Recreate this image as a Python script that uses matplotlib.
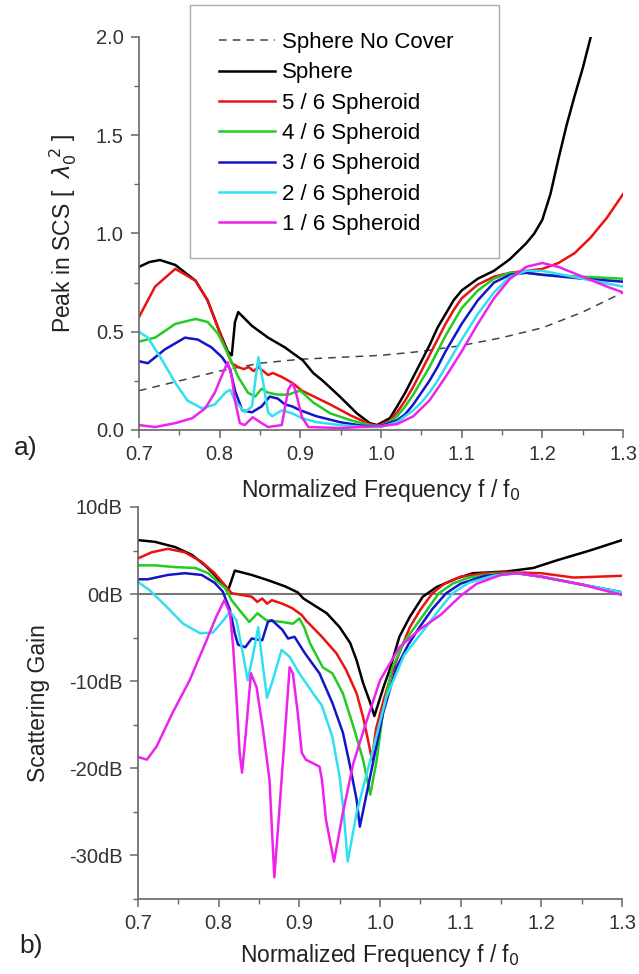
import matplotlib
matplotlib.use("Agg")
import matplotlib.pyplot as plt
from matplotlib.ticker import MultipleLocator
from matplotlib.patches import Rectangle

plt.rcParams['font.family'] = ['Liberation Sans', 'DejaVu Sans']
plt.rcParams['mathtext.fontset'] = 'dejavusans'

# ---- panel a) peak SCS [lambda0^2] ----
f_nc = [0.70, 0.75, 0.80, 0.85, 0.90, 0.95, 1.00, 1.05, 1.10, 1.15, 1.20, 1.25, 1.30]
scs_nc = [0.20, 0.25, 0.30, 0.34, 0.36, 0.37, 0.38, 0.40, 0.43, 0.47, 0.52, 0.60, 0.70]

f_sph_a = [0.70, 0.713, 0.726, 0.745, 0.77, 0.785, 0.798, 0.81, 0.815, 0.819, 0.823, 0.84, 0.86, 0.881,
           0.891, 0.903, 0.916, 0.928, 0.949, 0.97, 0.986, 0.995, 1.011, 1.02, 1.03, 1.04, 1.05, 1.06,
           1.07, 1.08, 1.09, 1.10, 1.12, 1.14, 1.16, 1.18, 1.19, 1.20, 1.21, 1.22, 1.23, 1.24, 1.25, 1.26]
scs_sph = [0.83, 0.855, 0.865, 0.84, 0.76, 0.66, 0.52, 0.40, 0.38, 0.55, 0.60, 0.53, 0.47, 0.42,
           0.39, 0.355, 0.29, 0.25, 0.17, 0.085, 0.035, 0.025, 0.06, 0.12, 0.19, 0.27, 0.35, 0.43,
           0.52, 0.59, 0.66, 0.71, 0.77, 0.81, 0.87, 0.95, 1.00, 1.07, 1.20, 1.38, 1.55, 1.70, 1.84, 2.0]

f_s5_a = [0.70, 0.72, 0.745, 0.77, 0.785, 0.798, 0.807, 0.815, 0.823, 0.83, 0.836, 0.842, 0.848, 0.86,
          0.866, 0.877, 0.89, 0.902, 0.912, 0.937, 0.962, 0.986, 0.995, 1.01, 1.02, 1.03, 1.04, 1.05,
          1.06, 1.07, 1.08, 1.09, 1.10, 1.12, 1.14, 1.16, 1.18, 1.20, 1.22, 1.24, 1.26, 1.28, 1.30]
scs_s5 = [0.575, 0.73, 0.82, 0.76, 0.66, 0.52, 0.42, 0.34, 0.32, 0.31, 0.32, 0.30, 0.32, 0.28,
          0.29, 0.27, 0.24, 0.20, 0.18, 0.13, 0.075, 0.03, 0.02, 0.045, 0.09, 0.15, 0.22, 0.30,
          0.38, 0.46, 0.54, 0.61, 0.67, 0.74, 0.78, 0.80, 0.81, 0.82, 0.85, 0.90, 0.98, 1.08, 1.20]

f_s4_a = [0.70, 0.72, 0.745, 0.77, 0.785, 0.798, 0.81, 0.823, 0.835, 0.844, 0.852, 0.86, 0.872, 0.885,
          0.892, 0.90, 0.916, 0.937, 0.962, 0.986, 1.0, 1.01, 1.02, 1.03, 1.04, 1.05, 1.06, 1.07,
          1.08, 1.09, 1.10, 1.12, 1.14, 1.16, 1.18, 1.20, 1.25, 1.30]
scs_s4 = [0.45, 0.47, 0.54, 0.565, 0.55, 0.49, 0.39, 0.27, 0.19, 0.17, 0.21, 0.19, 0.18, 0.18,
          0.19, 0.20, 0.14, 0.085, 0.05, 0.025, 0.02, 0.04, 0.07, 0.12, 0.18, 0.25, 0.32, 0.40,
          0.48, 0.55, 0.62, 0.71, 0.77, 0.80, 0.80, 0.79, 0.78, 0.77]

f_s3_a = [0.70, 0.711, 0.732, 0.757, 0.773, 0.79, 0.803, 0.813, 0.819, 0.828, 0.84, 0.852, 0.862, 0.872,
          0.881, 0.89, 0.90, 0.92, 0.949, 0.98, 1.0, 1.02, 1.03, 1.04, 1.05, 1.06, 1.07, 1.08,
          1.09, 1.10, 1.12, 1.14, 1.16, 1.18, 1.20, 1.25, 1.30]
scs_s3 = [0.35, 0.34, 0.41, 0.47, 0.46, 0.42, 0.37, 0.31, 0.20, 0.10, 0.09, 0.12, 0.17, 0.16,
          0.13, 0.12, 0.10, 0.07, 0.04, 0.02, 0.02, 0.05, 0.08, 0.13, 0.19, 0.25, 0.32, 0.40,
          0.47, 0.54, 0.66, 0.75, 0.79, 0.80, 0.79, 0.77, 0.755]

f_s2_a = [0.70, 0.711, 0.728, 0.745, 0.76, 0.778, 0.794, 0.807, 0.813, 0.819, 0.831, 0.84, 0.848, 0.854,
          0.86, 0.865, 0.877, 0.89, 0.902, 0.92, 0.949, 0.98, 1.0, 1.02, 1.04, 1.05, 1.06, 1.07,
          1.08, 1.09, 1.10, 1.12, 1.14, 1.16, 1.18, 1.20, 1.25, 1.30]
scs_s2 = [0.50, 0.47, 0.36, 0.24, 0.15, 0.11, 0.13, 0.19, 0.205, 0.15, 0.09, 0.12, 0.37, 0.24,
          0.09, 0.07, 0.10, 0.085, 0.06, 0.04, 0.025, 0.015, 0.015, 0.04, 0.10, 0.14, 0.19, 0.25,
          0.32, 0.39, 0.46, 0.59, 0.70, 0.78, 0.81, 0.81, 0.77, 0.73]

f_s1_a = [0.70, 0.72, 0.745, 0.766, 0.782, 0.794, 0.804, 0.81, 0.815, 0.819, 0.825, 0.831, 0.841, 0.852,
          0.86, 0.877, 0.885, 0.89, 0.894, 0.902, 0.91, 0.95, 1.0, 1.02, 1.04, 1.06, 1.08, 1.10,
          1.12, 1.14, 1.16, 1.18, 1.20, 1.22, 1.25, 1.28, 1.30]
scs_s1 = [0.025, 0.015, 0.035, 0.06, 0.11, 0.19, 0.29, 0.345, 0.27, 0.15, 0.035, 0.025, 0.065, 0.035,
          0.015, 0.025, 0.205, 0.24, 0.20, 0.065, 0.015, 0.01, 0.02, 0.03, 0.07, 0.15, 0.27, 0.40,
          0.54, 0.67, 0.77, 0.83, 0.85, 0.83, 0.78, 0.73, 0.70]

# ---- panel b) scattering gain [dB] ----
f_sph_b = [0.70, 0.721, 0.746, 0.767, 0.783, 0.795, 0.804, 0.812, 0.816, 0.82, 0.841, 0.861, 0.882, 0.898,
           0.905, 0.917, 0.934, 0.95, 0.963, 0.971, 0.979, 0.988, 0.993, 1.005, 1.012, 1.024, 1.037, 1.053,
           1.07, 1.095, 1.115, 1.157, 1.19, 1.22, 1.26, 1.30]
gain_sph = [6.2, 6.0, 5.4, 4.5, 3.3, 2.2, 1.2, 0.5, 1.6, 2.7, 2.2, 1.6, 0.9, 0.2,
            -0.5, -1.2, -2.2, -3.8, -5.6, -7.6, -10.2, -12.5, -14.0, -10.5, -8.7, -4.9, -2.6, -0.3,
            0.8, 1.8, 2.4, 2.6, 3.0, 3.9, 5.0, 6.2]

f_s5_b = [0.70, 0.717, 0.737, 0.758, 0.779, 0.795, 0.808, 0.816, 0.829, 0.841, 0.848, 0.854, 0.86, 0.866,
          0.879, 0.891, 0.903, 0.908, 0.928, 0.946, 0.958, 0.971, 0.979, 0.985, 0.99, 0.995, 1.005, 1.015,
          1.025, 1.037, 1.05, 1.065, 1.08, 1.10, 1.13, 1.16, 1.20, 1.24, 1.27, 1.30]
gain_s5 = [4.1, 4.8, 5.2, 4.8, 3.7, 2.4, 1.0, 0.1, -0.1, -0.3, -0.9, -0.5, -1.1, -0.7,
           -1.1, -1.6, -2.4, -3.0, -4.9, -6.8, -8.7, -11.4, -14.1, -16.7, -19.0, -15.5, -12.0, -9.0,
           -6.5, -3.8, -1.8, 0.1, 1.2, 2.0, 2.4, 2.5, 2.4, 1.9, 2.0, 2.1]

f_s4_b = [0.70, 0.721, 0.746, 0.771, 0.787, 0.799, 0.808, 0.816, 0.829, 0.838, 0.848, 0.859, 0.879, 0.892,
          0.900, 0.906, 0.913, 0.929, 0.941, 0.954, 0.967, 0.979, 0.988, 0.996, 1.004, 1.015, 1.03, 1.043,
          1.06, 1.073, 1.09, 1.11, 1.14, 1.17, 1.20, 1.25, 1.30]
gain_s4 = [3.3, 3.3, 3.1, 3.0, 2.4, 1.4, 0.7, -0.7, -2.2, -3.2, -2.2, -3.0, -3.2, -3.4,
           -2.8, -3.8, -5.6, -8.4, -9.1, -11.4, -15.2, -19.0, -23.0, -19.0, -13.3, -8.5, -5.5, -3.8,
           -1.6, 0.1, 1.2, 1.9, 2.3, 2.4, 2.0, 1.1, 0.2]

f_s3_b = [0.70, 0.712, 0.737, 0.758, 0.779, 0.795, 0.805, 0.814, 0.82, 0.824, 0.833, 0.841, 0.854, 0.861,
          0.866, 0.879, 0.886, 0.894, 0.907, 0.925, 0.941, 0.954, 0.963, 0.971, 0.975, 0.987, 1.004, 1.02,
          1.035, 1.049, 1.065, 1.082, 1.10, 1.13, 1.17, 1.20, 1.25, 1.30]
gain_s3 = [1.7, 1.7, 2.2, 2.4, 2.2, 1.3, 0.3, -1.8, -4.5, -5.8, -6.1, -5.1, -5.3, -3.2,
           -3.0, -4.1, -5.1, -4.9, -6.8, -9.1, -12.5, -15.9, -19.8, -23.6, -26.7, -21.3, -13.6, -8.5,
           -5.8, -3.8, -1.7, 0.1, 1.2, 2.1, 2.4, 2.0, 1.1, 0.2]

f_s2_b = [0.70, 0.715, 0.736, 0.756, 0.777, 0.793, 0.806, 0.814, 0.822, 0.830, 0.836, 0.843, 0.849, 0.855,
          0.86, 0.867, 0.878, 0.888, 0.90, 0.917, 0.928, 0.941, 0.95, 0.955, 0.96, 0.971, 0.987, 1.008,
          1.03, 1.057, 1.075, 1.09, 1.11, 1.14, 1.17, 1.20, 1.25, 1.30]
gain_s2 = [1.4, 0.4, -1.5, -3.4, -4.5, -4.4, -3.0, -2.0, -3.0, -6.8, -9.9, -6.8, -3.8, -8.4,
           -11.9, -9.9, -6.4, -7.2, -9.1, -11.4, -12.8, -16.4, -21.0, -25.1, -30.7, -25.1, -19.4, -11.8,
           -7.0, -3.8, -1.6, 0.1, 1.3, 2.1, 2.4, 2.0, 1.1, 0.2]

f_s1_b = [0.70, 0.711, 0.723, 0.743, 0.764, 0.785, 0.797, 0.807, 0.814, 0.818, 0.822, 0.826, 0.829, 0.834,
          0.84, 0.847, 0.855, 0.863, 0.869, 0.875, 0.881, 0.888, 0.892, 0.898, 0.903, 0.908, 0.925, 0.928,
          0.933, 0.943, 0.954, 0.967, 0.984, 1.0, 1.024, 1.05, 1.075, 1.10, 1.12, 1.15, 1.17, 1.20,
          1.25, 1.30]
gain_s1 = [-18.7, -19.0, -17.5, -13.6, -9.9, -5.3, -2.6, -0.7, -2.2, -6.1, -11.8, -18.2, -20.5, -15.6,
           -9.1, -10.7, -15.6, -21.3, -32.5, -25.1, -17.5, -8.4, -9.1, -13.6, -18.2, -19.0, -19.8, -21.3,
           -25.9, -30.7, -25.1, -19.4, -14.4, -9.9, -6.1, -4.0, -2.4, -0.2, 1.2, 2.2, 2.4, 2.0,
           1.1, -0.1]

labels = ['Sphere No Cover', 'Sphere', '5 / 6 Spheroid', '4 / 6 Spheroid',
          '3 / 6 Spheroid', '2 / 6 Spheroid', '1 / 6 Spheroid']
colors = ['#444444', 'black', '#ee1111', '#22cc22', '#1414c8', '#30e0f0', '#ee22ee']

series_a = [(f_sph_a, scs_sph), (f_s5_a, scs_s5), (f_s4_a, scs_s4),
            (f_s3_a, scs_s3), (f_s2_a, scs_s2), (f_s1_a, scs_s1)]
series_b = [(f_sph_b, gain_sph), (f_s5_b, gain_s5), (f_s4_b, gain_s4),
            (f_s3_b, gain_s3), (f_s2_b, gain_s2), (f_s1_b, gain_s1)]

fig = plt.figure(figsize=(6.39, 9.74), dpi=100)
ax1 = fig.add_axes([139/639, 1 - 430/974, 484/639, 393/974])
ax2 = fig.add_axes([138/639, 1 - 899/974, 484/639, 392/974])

lw = 1.8
ax1.plot(f_nc, scs_nc, color=colors[0], lw=1.1, dashes=(5, 4), label=labels[0])
for (fx, yy), c, lab in zip(series_a, colors[1:], labels[1:]):
    ax1.plot(fx, yy, color=c, lw=lw, label=lab, solid_joinstyle='round')

ax2.axhline(0, color='#777777', lw=1.5)
for (fx, yy), c in zip(series_b, colors[1:]):
    ax2.plot(fx, yy, color=c, lw=lw, solid_joinstyle='round')

tick_col = '#333333'
xt = [0.7, 0.8, 0.9, 1.0, 1.1, 1.2, 1.3]
for ax in (ax1, ax2):
    ax.set_xlim(0.7, 1.3)
    ax.spines['top'].set_visible(False)
    ax.spines['right'].set_visible(False)
    for s in ('left', 'bottom'):
        ax.spines[s].set_color('#666666')
        ax.spines[s].set_linewidth(1.2)
    ax.set_xticks(xt)
    ax.set_xticklabels(['%.1f' % v for v in xt])
    ax.xaxis.set_minor_locator(MultipleLocator(0.05))
    ax.tick_params(which='major', direction='out', length=6, width=1.1, color='#666666',
                   labelsize=14.5, labelcolor=tick_col, pad=5)
    ax.tick_params(which='minor', direction='out', length=3.5, width=1.0, color='#666666')

ax1.set_xlabel('Normalized Frequency f / f$_0$', fontsize=16.5, color='#222222', labelpad=9)
ax2.set_xlabel('Normalized Frequency f / f$_0$', fontsize=16.5, color='#222222', labelpad=6)

ax1.set_ylim(0, 2.0)
ax1.yaxis.set_major_locator(MultipleLocator(0.5))
ax1.yaxis.set_minor_locator(MultipleLocator(0.25))
ax1.set_ylabel(r'Peak in SCS [  $\lambda_0^{\ 2}$ ]', fontsize=16.5, color='#222222', labelpad=12)

ax2.set_ylim(-35, 10)
ax2.set_yticks([10, 0, -10, -20, -30])
ax2.set_yticklabels(['10dB', '0dB', '-10dB', '-20dB', '-30dB'])
ax2.yaxis.set_minor_locator(MultipleLocator(5))
ax2.set_ylabel('Scattering Gain', fontsize=16.5, color='#222222', labelpad=14)

# legend with a separate frame
ax1.legend(loc='upper left', bbox_to_anchor=(219/639, 1 - 32/974), bbox_transform=fig.transFigure,
           frameon=False, fontsize=16, handlelength=2.5, handletextpad=0.33,
           labelspacing=0.42, borderpad=0, borderaxespad=0)
fig.add_artist(Rectangle((190/639, 1 - 258/974), 309/639, 253/974, transform=fig.transFigure,
                         fill=False, edgecolor='#aaaaaa', lw=1.0))

fig.text(14/639, 1 - 448/974, 'a)', fontsize=19, va='center', ha='left', color='#222222')
fig.text(19/639, 1 - 946/974, 'b)', fontsize=19, va='center', ha='left', color='#222222')

fig.savefig('out.png', dpi=100)
